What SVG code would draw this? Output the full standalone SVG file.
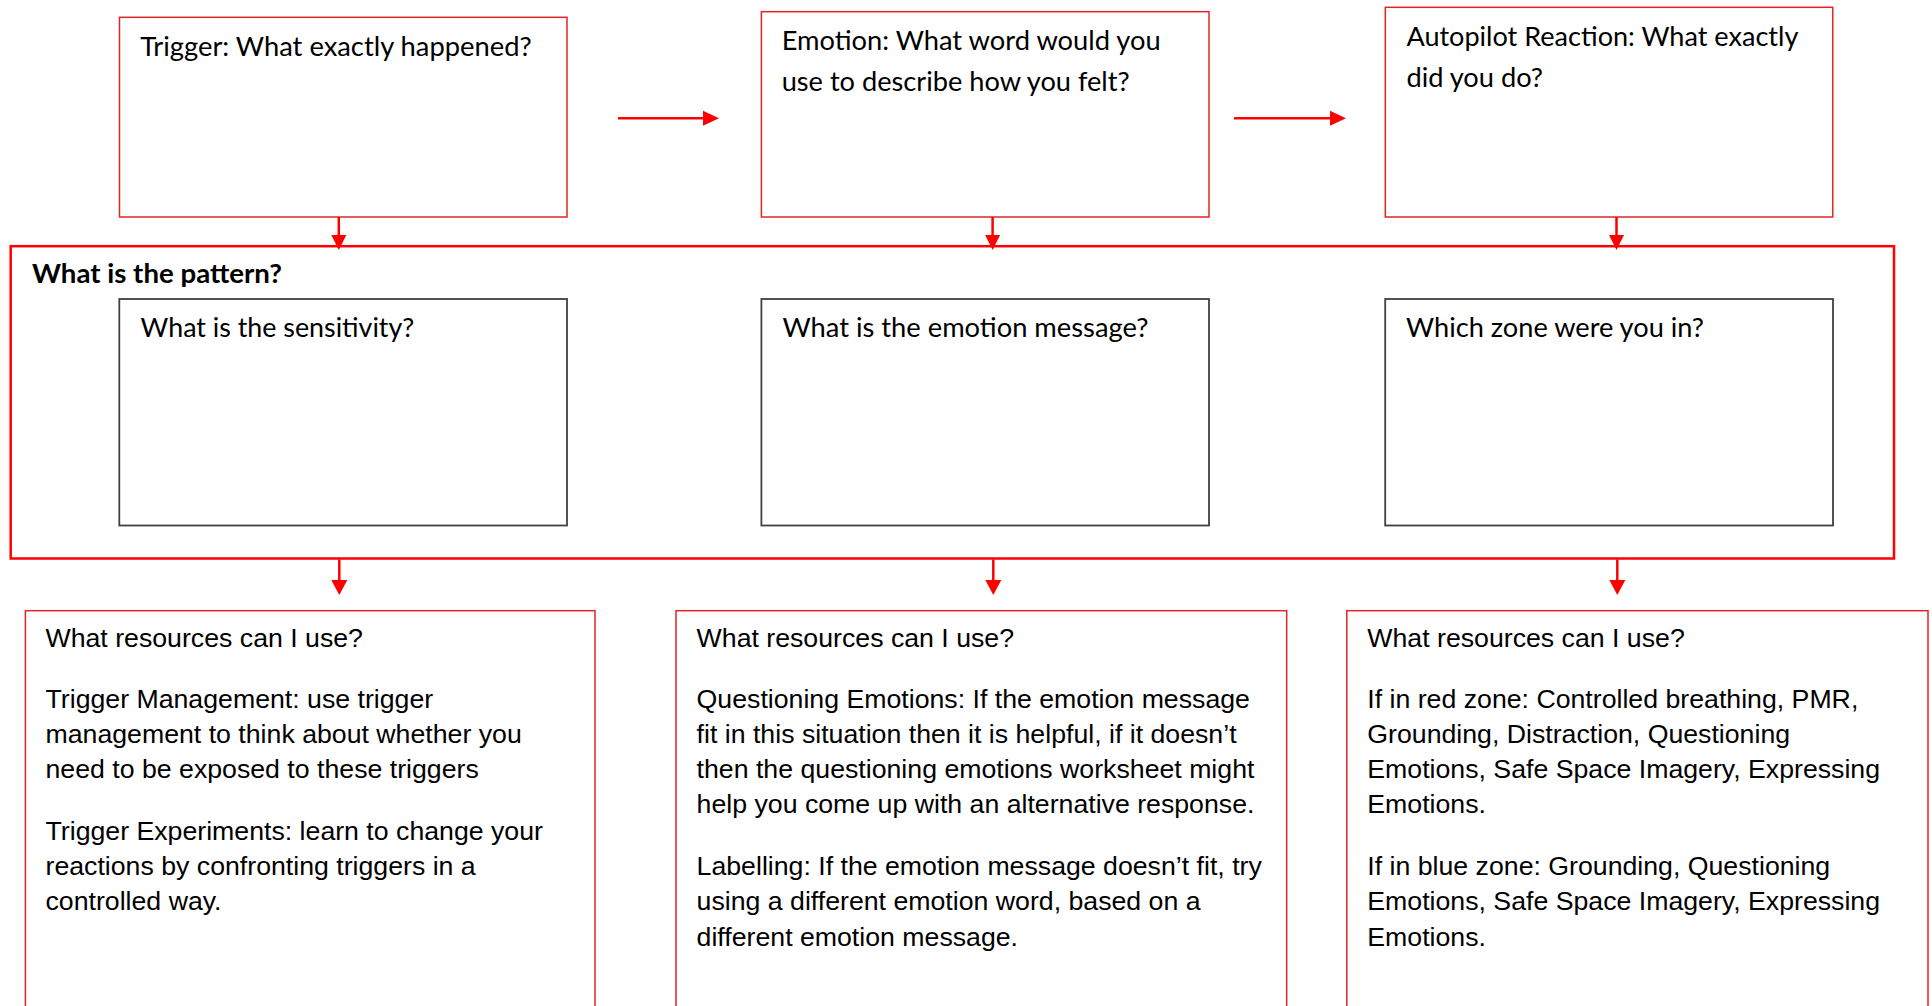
<svg xmlns="http://www.w3.org/2000/svg" width="1932" height="1006" viewBox="0 0 1932 1006">
<style>
.bg{fill:#ffffff}
.topbox{fill:#ffffff;stroke:#E0242A;stroke-width:1.5}
.botbox{fill:#ffffff;stroke:#E0242A;stroke-width:1.5}
.pattern{fill:#ffffff;stroke:#FF0000;stroke-width:2.5}
.inner{fill:#ffffff;stroke:#404040;stroke-width:1.8}
.cal{font-family:Lato,"Open Sans","Noto Sans",sans-serif;font-size:27.5px;fill:#000000}
.calb{font-family:Lato,"Open Sans","Noto Sans",sans-serif;font-size:27.5px;font-weight:bold;fill:#000000}
.ari{font-family:"Liberation Sans",Arial,sans-serif;font-size:26.7px;fill:#000000}
.conn line{stroke:#FF0000;stroke-width:2.5}
.conn polygon{fill:#FF0000}
</style>
<rect class="bg" x="0" y="0" width="1932" height="1006"/>

<g id="node-pattern">
<rect class="pattern" x="10.7" y="246.2" width="1883.3" height="312.3"/>
<text class="calb" x="32" y="283" textLength="250" lengthAdjust="spacingAndGlyphs">What is the pattern?</text>
</g>

<g id="node-trigger">
<rect class="topbox" x="119.5" y="17.3" width="447.5" height="199.7"/>
<text class="cal" x="140.2" y="55.5" textLength="391.5" lengthAdjust="spacingAndGlyphs">Trigger: What exactly happened?</text>
</g>

<g id="node-emotion">
<rect class="topbox" x="761.4" y="11.7" width="447.6" height="205.3"/>
<text class="cal" x="781.7" y="50" textLength="379" lengthAdjust="spacingAndGlyphs">Emotion: What word would you</text>
<text class="cal" x="781.7" y="91" textLength="348" lengthAdjust="spacingAndGlyphs">use to describe how you felt?</text>
</g>

<g id="node-autopilot">
<rect class="topbox" x="1385.3" y="7.3" width="447.5" height="209.7"/>
<text class="cal" x="1406.4" y="45.7" textLength="392" lengthAdjust="spacingAndGlyphs">Autopilot Reaction: What exactly</text>
<text class="cal" x="1406.4" y="87" textLength="136.6" lengthAdjust="spacingAndGlyphs">did you do?</text>
</g>

<g id="node-sensitivity">
<rect class="inner" x="119.3" y="299" width="447.7" height="226.5"/>
<text class="cal" x="140.6" y="336.7" textLength="273.7" lengthAdjust="spacingAndGlyphs">What is the sensitivity?</text>
</g>

<g id="node-emotion-message">
<rect class="inner" x="761.4" y="299" width="447.6" height="226.5"/>
<text class="cal" x="782.4" y="336.7" textLength="366" lengthAdjust="spacingAndGlyphs">What is the emotion message?</text>
</g>

<g id="node-zone">
<rect class="inner" x="1385.2" y="299" width="447.8" height="226.5"/>
<text class="cal" x="1406" y="336.7" textLength="298" lengthAdjust="spacingAndGlyphs">Which zone were you in?</text>
</g>

<g id="node-resources-trigger">
<rect class="botbox" x="25.4" y="610.7" width="569.6" height="420"/>
<text class="ari" x="45.5" y="646.5">What resources can I use?</text>
<text class="ari" x="45.5" y="707.5">Trigger Management: use trigger</text>
<text class="ari" x="45.5" y="742.8">management to think about whether you</text>
<text class="ari" x="45.5" y="778.1">need to be exposed to these triggers</text>
<text class="ari" x="45.5" y="839.6">Trigger Experiments: learn to change your</text>
<text class="ari" x="45.5" y="874.9">reactions by confronting triggers in a</text>
<text class="ari" x="45.5" y="910.2">controlled way.</text>
</g>

<g id="node-resources-emotion">
<rect class="botbox" x="676" y="610.7" width="610.7" height="420"/>
<text class="ari" x="696.6" y="646.5">What resources can I use?</text>
<text class="ari" x="696.6" y="707.5">Questioning Emotions: If the emotion message</text>
<text class="ari" x="696.6" y="742.8">fit in this situation then it is helpful, if it doesn’t</text>
<text class="ari" x="696.6" y="778.1">then the questioning emotions worksheet might</text>
<text class="ari" x="696.6" y="813.4">help you come up with an alternative response.</text>
<text class="ari" x="696.6" y="874.9">Labelling: If the emotion message doesn’t fit, try</text>
<text class="ari" x="696.6" y="910.2">using a different emotion word, based on a</text>
<text class="ari" x="696.6" y="945.5">different emotion message.</text>
</g>

<g id="node-resources-zone">
<rect class="botbox" x="1346.8" y="610.7" width="581.2" height="420"/>
<text class="ari" x="1367.3" y="646.5">What resources can I use?</text>
<text class="ari" x="1367.3" y="707.5">If in red zone: Controlled breathing, PMR,</text>
<text class="ari" x="1367.3" y="742.8">Grounding, Distraction, Questioning</text>
<text class="ari" x="1367.3" y="778.1">Emotions, Safe Space Imagery, Expressing</text>
<text class="ari" x="1367.3" y="813.4">Emotions.</text>
<text class="ari" x="1367.3" y="874.9">If in blue zone: Grounding, Questioning</text>
<text class="ari" x="1367.3" y="910.2">Emotions, Safe Space Imagery, Expressing</text>
<text class="ari" x="1367.3" y="945.5">Emotions.</text>
</g>

<g id="connectors" class="conn">
<line x1="618" y1="118.3" x2="704" y2="118.3"/>
<polygon points="703,110.8 719,118.3 703,125.8"/>
<line x1="1234" y1="118.3" x2="1331" y2="118.3"/>
<polygon points="1330,110.8 1346,118.3 1330,125.8"/>
<line x1="338.8" y1="217" x2="338.8" y2="236"/>
<polygon points="331.3,235 346.3,235 338.8,250"/>
<line x1="992.6" y1="217" x2="992.6" y2="236"/>
<polygon points="985.1,235 1000.1,235 992.6,250"/>
<line x1="1616.5" y1="217" x2="1616.5" y2="236"/>
<polygon points="1609,235 1624,235 1616.5,250"/>
<line x1="339.3" y1="559.5" x2="339.3" y2="581"/>
<polygon points="331.3,580 347.3,580 339.3,595"/>
<line x1="993.3" y1="559.5" x2="993.3" y2="581"/>
<polygon points="985.3,580 1001.3,580 993.3,595"/>
<line x1="1617.3" y1="559.5" x2="1617.3" y2="581"/>
<polygon points="1609.3,580 1625.3,580 1617.3,595"/>
</g>
</svg>
